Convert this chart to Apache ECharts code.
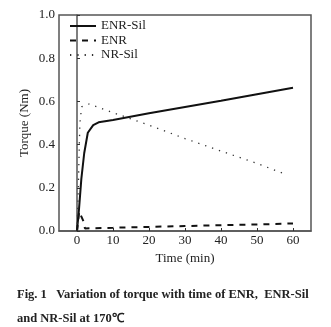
<!DOCTYPE html>
<html>
<head>
<meta charset="utf-8">
<script src="https://cdn.jsdelivr.net/npm/echarts@6/dist/echarts.min.js"></script>
<style>html,body{margin:0;padding:0;background:#fff}#c{width:331px;height:327px}</style>
</head>
<body>
<div id="c"></div>
<script>
var seriesNames = ['ENR-Sil', 'ENR', 'NR-Sil'];
var xTickValues = [0, 10, 20, 30, 40, 50, 60];
var yTickValues = [0, 0.2, 0.4, 0.6, 0.8, 1.0];
var enrSil = [[0,0],[0.55,0.1],[1.2,0.24],[2.0,0.36],[3.0,0.455],[4.5,0.49],[6,0.503],[10,0.514],[20,0.545],[30,0.574],[40,0.603],[50,0.633],[60,0.663]];
var enr = [[0,0],[0.6,0.09],[1.8,0.045],[2.2,0.012],[10,0.015],[20,0.019],[30,0.023],[40,0.027],[50,0.03],[60,0.035]];
var nrSil = [[0,0],[0.3,0.15],[0.5,0.3],[0.8,0.5],[1.3,0.575],[3.3,0.588],[10,0.548],[20,0.49],[30,0.428],[40,0.37],[50,0.313],[58,0.262]];
var caption1 = 'Fig. 1   Variation of torque with time of ENR,  ENR-Sil';
var caption2 = 'and NR-Sil at 170\u2103';

var serif = 'Liberation Serif';
var axisCol = '#555';
var chart = echarts.init(document.getElementById('c'));
chart.setOption({
  animation: false,
  backgroundColor: '#fff',
  textStyle: { fontFamily: serif, color: '#222' },
  grid: { left: 59, right: 20, top: 15, bottom: 96, show: true, borderColor: axisCol, borderWidth: 1.5, backgroundColor: 'transparent' },
  legend: {
    orient: 'vertical', left: 64, top: 14.5, itemWidth: 26, itemHeight: 14, itemGap: 1.5,
    data: seriesNames,
    itemStyle: { opacity: 0 },
    textStyle: { fontFamily: serif, fontSize: 13, color: '#222' }
  },
  xAxis: {
    type: 'value', min: -5, max: 65,
    name: 'Time (min)', nameLocation: 'middle', nameGap: 21,
    nameTextStyle: { fontFamily: serif, fontSize: 13, color: '#222' },
    axisLine: { show: true, lineStyle: { color: axisCol, width: 1.5 } },
    axisTick: { show: true, inside: true, length: 3, customValues: xTickValues, lineStyle: { color: '#333' } },
    axisLabel: { customValues: xTickValues, fontFamily: serif, fontSize: 13, color: '#222', margin: 3 },
    splitLine: { show: false }
  },
  yAxis: {
    type: 'value', min: 0, max: 1, interval: 0.2,
    name: 'Torque (Nm)', nameLocation: 'middle', nameGap: 28, nameMoveOverlap: false,
    nameTextStyle: { fontFamily: serif, fontSize: 13, color: '#222' },
    axisLine: { show: true, lineStyle: { color: axisCol, width: 1.5 } },
    axisTick: { show: true, inside: true, length: 3, lineStyle: { color: '#333' } },
    axisLabel: { fontFamily: serif, fontSize: 13, color: '#222', margin: 4,
      formatter: function (v) { return v.toFixed(1); } },
    splitLine: { show: false }
  },
  series: [
    { name: seriesNames[0], type: 'line', data: enrSil, symbol: 'none', lineStyle: { color: '#111', width: 2 }, itemStyle: { color: '#111' } },
    { name: seriesNames[1], type: 'line', data: enr, symbol: 'none', lineStyle: { color: '#111', width: 2, type: [6, 6] }, itemStyle: { color: '#111' } },
    { name: seriesNames[2], type: 'line', data: nrSil, symbol: 'none', lineStyle: { color: '#333', width: 1.3, type: [1.3, 6] }, itemStyle: { color: '#333' } }
  ],
  graphic: [
    { type: 'text', left: 17, top: 288, style: { text: caption1, font: 'bold 12.5px "Liberation Serif"', fill: '#222' } },
    { type: 'text', left: 17, top: 312, style: { text: caption2, font: 'bold 12.5px "Liberation Serif"', fill: '#222' } }
  ]
});
</script>
</body>
</html>
